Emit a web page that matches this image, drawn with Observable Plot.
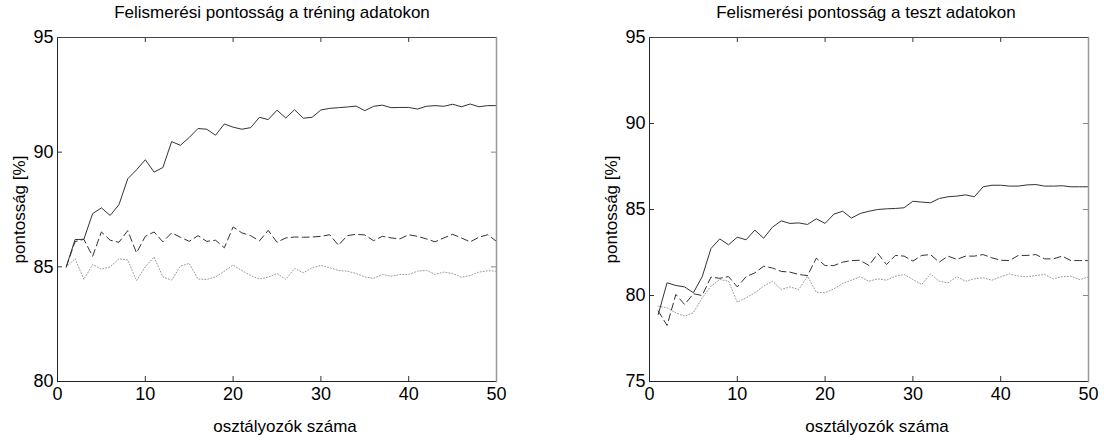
<!DOCTYPE html>
<html>
<head>
<meta charset="utf-8">
<script src="https://cdn.jsdelivr.net/npm/d3@7"></script>
<script src="https://cdn.jsdelivr.net/npm/@observablehq/plot@0.6"></script>
<style>
  html, body { margin: 0; padding: 0; background: #fff; }
  #wrap { position: relative; width: 1104px; height: 441px; overflow: hidden; font-family: "Liberation Sans", Arial, sans-serif; }
  .panel { position: absolute; top: 0; width: 552px; height: 441px; }
  .ttl { position: absolute; top: 3px; font-size: 17px; color: #000; white-space: nowrap; transform: translateX(-50%); }
</style>
</head>
<body>
<div id="wrap"></div>
<script>
// ---- data ----
const classifiers = d3.range(1, 51);

const trainSolid = [85.0, 86.19, 86.2, 87.32, 87.57, 87.24, 87.71, 88.84, 89.23, 89.67,
  89.13, 89.33, 90.46, 90.30, 90.64, 91.03, 91.0, 90.74, 91.23, 91.09,
  91.0, 91.07, 91.52, 91.42, 91.83, 91.49, 91.85, 91.48, 91.52, 91.84,
  91.91, 91.94, 91.97, 92.01, 91.81, 92.0, 92.05, 91.94, 91.95, 91.95,
  91.88, 92.0, 92.03, 92.0, 92.09, 91.98, 92.1, 91.98, 92.03, 92.03];
const trainDashed = [85.0, 86.1, 86.2, 85.46, 86.52, 86.16, 86.07, 86.58, 85.61, 86.33,
  86.52, 86.09, 86.48, 86.29, 86.11, 86.36, 86.11, 86.16, 85.83, 86.74,
  86.48, 86.36, 86.13, 86.59, 86.07, 86.26, 86.3, 86.29, 86.3, 86.33,
  86.4, 85.94, 86.36, 86.42, 86.39, 86.14, 86.33, 86.26, 86.22, 86.4,
  86.33, 86.22, 86.09, 86.26, 86.42, 86.26, 86.09, 86.29, 86.4, 86.11];
const trainDotted = [85.0, 85.35, 84.45, 85.1, 84.9, 85.0, 85.35, 85.3, 84.4, 85.0,
  85.43, 84.56, 84.42, 85.03, 85.15, 84.47, 84.45, 84.56, 84.81, 85.07,
  84.84, 84.62, 84.47, 84.55, 84.71, 84.45, 84.93, 84.74, 84.96, 85.06,
  84.96, 84.84, 84.81, 84.71, 84.56, 84.5, 84.67, 84.59, 84.67, 84.67,
  84.81, 84.85, 84.67, 84.77, 84.71, 84.55, 84.62, 84.77, 84.83, 84.81];

const testSolid = [78.9, 80.74, 80.58, 80.5, 80.16, 81.09, 82.73, 83.29, 82.95, 83.39,
  83.24, 83.8, 83.33, 83.97, 84.34, 84.19, 84.22, 84.13, 84.46, 84.19,
  84.73, 84.9, 84.5, 84.77, 84.9, 85.0, 85.04, 85.06, 85.1, 85.48,
  85.43, 85.39, 85.64, 85.74, 85.78, 85.85, 85.74, 86.32, 86.41, 86.41,
  86.36, 86.36, 86.43, 86.45, 86.36, 86.36, 86.38, 86.32, 86.32, 86.32];
const testDashed = [79.1, 78.26, 80.06, 79.48, 80.1, 80.0, 81.07, 81.0, 81.1, 80.5,
  81.09, 81.32, 81.7, 81.6, 81.4, 81.36, 81.22, 81.16, 82.17, 81.74,
  81.74, 81.94, 82.03, 82.05, 81.74, 82.44, 81.8, 82.33, 82.29, 82.0,
  82.33, 82.38, 81.94, 82.29, 82.1, 82.29, 82.29, 82.38, 82.19, 82.05,
  82.03, 82.33, 82.33, 82.38, 82.13, 82.13, 82.29, 82.03, 82.03, 82.03];
const testDotted = [79.38, 79.28, 78.99, 78.8, 79.0, 79.86, 80.54, 80.93, 80.83, 79.61,
  79.86, 80.16, 80.54, 80.83, 80.35, 80.5, 80.35, 81.12, 80.19, 80.16,
  80.39, 80.7, 80.89, 81.09, 80.83, 80.97, 80.89, 81.12, 81.22, 80.93,
  80.64, 81.26, 80.83, 80.74, 81.09, 80.83, 80.97, 81.03, 80.89, 81.09,
  81.26, 81.12, 81.09, 81.16, 81.22, 80.97, 81.09, 81.12, 80.93, 81.07];

const xTicks = [0, 10, 20, 30, 40, 50];
const trainYTicks = [80, 85, 90, 95];
const testYTicks = [75, 80, 85, 90, 95];

const trainTitle = "Felismerési pontosság a tréning adatokon";
const testTitle = "Felismerési pontosság a teszt adatokon";
const xLabel = "osztályozók száma";
const yLabel = "pontosság [%]";

// ---- drawing ----
const W = 552, H = 441;
const MT = 37, MB = 60;
const frameH = H - MT - MB;
const TICK = 5;

function toRows(vals) { return classifiers.map((x, i) => ({x, y: vals[i]})); }

function panel(series, yDomain, yTicks, ml, mr) {
  const frameW = W - ml - mr;
  const [solid, dashed, dotted] = series;
  return Plot.plot({
    width: W, height: H,
    marginLeft: ml, marginRight: mr, marginTop: MT, marginBottom: MB,
    style: {fontFamily: "Liberation Sans, Arial, sans-serif", background: "white", color: "#000"},
    x: {domain: [0, 50]},
    y: {domain: yDomain},
    marks: [
      Plot.axisX(xTicks, {tickSize: 0, tickPadding: 6, fontSize: 18, label: null}),
      Plot.axisY(yTicks, {tickSize: 0, tickPadding: 4, fontSize: 18, label: null}),
      Plot.text([xLabel], {text: d => d, frameAnchor: "bottom", dy: 45, dx: 8, fontSize: 17, lineAnchor: "middle", textAnchor: "middle"}),
      Plot.text([yLabel], {text: d => d, frameAnchor: "left", dx: -38, rotate: -90, fontSize: 17, lineAnchor: "middle", textAnchor: "middle"}),
      // inward ticks on all four sides
      Plot.tickX(xTicks, {x: d => d, insetTop: frameH - TICK, stroke: "#333"}),
      Plot.tickX(xTicks, {x: d => d, insetBottom: frameH - TICK, stroke: "#333"}),
      Plot.tickY(yTicks, {y: d => d, insetRight: frameW - TICK, stroke: "#333"}),
      Plot.tickY(yTicks, {y: d => d, insetLeft: frameW - TICK, stroke: "#888"}),
      Plot.lineY(toRows(dotted), {x: "x", y: "y", stroke: "#999", strokeWidth: 1, strokeDasharray: "1,2"}),
      Plot.lineY(toRows(dashed), {x: "x", y: "y", stroke: "#333", strokeWidth: 1, strokeDasharray: "7,4"}),
      Plot.lineY(toRows(solid), {x: "x", y: "y", stroke: "#333", strokeWidth: 1}),
      Plot.frame({anchor: "left", stroke: "#222"}),
      Plot.frame({anchor: "bottom", stroke: "#222"}),
      Plot.frame({anchor: "top", stroke: "#444"}),
      Plot.frame({anchor: "right", stroke: "#999", strokeWidth: 1.5})
    ]
  });
}

const wrap = document.getElementById("wrap");

const leftDiv = document.createElement("div");
leftDiv.className = "panel"; leftDiv.style.left = "0px";
leftDiv.appendChild(panel([trainSolid, trainDashed, trainDotted], [80, 95], trainYTicks, 57, 56));
wrap.appendChild(leftDiv);

const rightDiv = document.createElement("div");
rightDiv.className = "panel"; rightDiv.style.left = "552px";
rightDiv.appendChild(panel([testSolid, testDashed, testDotted], [75, 95], testYTicks, 97, 16));
wrap.appendChild(rightDiv);

const t1 = document.createElement("div");
t1.className = "ttl"; t1.style.left = "272px"; t1.textContent = trainTitle;
wrap.appendChild(t1);
const t2 = document.createElement("div");
t2.className = "ttl"; t2.style.left = "866px"; t2.textContent = testTitle;
wrap.appendChild(t2);
</script>
</body>
</html>
